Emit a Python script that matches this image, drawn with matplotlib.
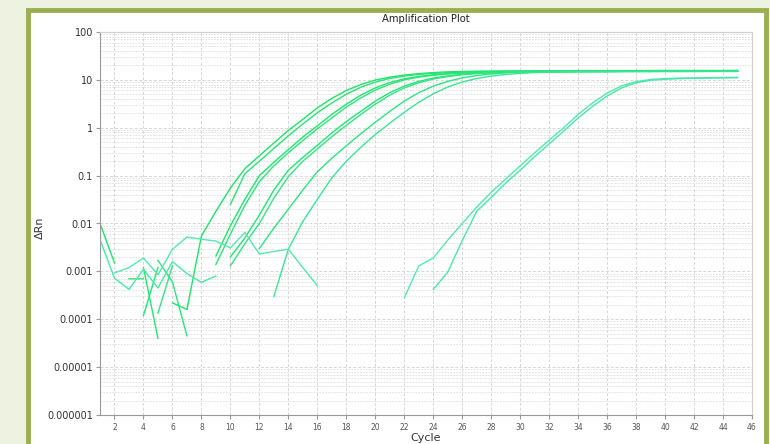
import numpy as np
import matplotlib
matplotlib.use("Agg")
import matplotlib.pyplot as plt
from matplotlib.patches import Rectangle
from matplotlib.ticker import LogLocator, NullFormatter

n = np.nan

# cycle numbers 1..45
cycles = list(range(1, 46))

# delta Rn per well (nan = negative value, not drawn on log axis)
well_a1 = [n, n, n, n, n, 0.00022, 0.00016, 0.0055, 0.018, 0.055,
           0.14, 0.26, 0.48, 0.88, 1.5, 2.6, 4.1, 6.0, 8.0, 9.9,
           11.4, 12.6, 13.5, 14.2, 14.7, 15.0, 15.2, 15.3, 15.4, 15.4,
           15.5, 15.5, 15.5, 15.6, 15.6, 15.6, 15.6, 15.6, 15.7, 15.7,
           15.7, 15.7, 15.7, 15.7, 15.8]
well_a2 = [n, n, n, 0.0012, 0.00004, n, n, n, n, 0.025,
           0.11, 0.2, 0.37, 0.68, 1.2, 2.05, 3.3, 5.0, 7.0, 9.0,
           10.7, 12.0, 13.0, 13.7, 14.2, 14.5, 14.7, 14.8, 14.9, 15.0,
           15.0, 15.1, 15.1, 15.1, 15.2, 15.2, 15.2, 15.2, 15.2, 15.3,
           15.3, 15.3, 15.3, 15.3, 15.3]
well_b1 = [0.010, 0.0015, n, n, n, n, n, n, 0.0021, 0.009,
           0.032, 0.1, 0.19, 0.35, 0.64, 1.1, 1.9, 3.1, 4.8, 6.8,
           8.8, 10.5, 11.8, 12.8, 13.5, 14.0, 14.3, 14.5, 14.6, 14.7,
           14.8, 14.8, 14.9, 14.9, 14.9, 15.0, 15.0, 15.0, 15.0, 15.1,
           15.1, 15.1, 15.1, 15.1, 15.1]
well_b2 = [n, n, 0.0007, 0.0007, n, n, n, n, 0.0014, 0.006,
           0.024, 0.075, 0.16, 0.3, 0.54, 0.95, 1.6, 2.7, 4.2, 6.1,
           8.1, 10.0, 11.4, 12.5, 13.3, 13.9, 14.2, 14.5, 14.6, 14.7,
           14.8, 14.8, 14.8, 14.9, 14.9, 14.9, 14.9, 15.0, 15.0, 15.0,
           15.0, 15.0, 15.0, 15.0, 15.0]
well_c1 = [n, n, n, 0.00012, 0.0012, n, n, n, n, 0.002,
           0.005, 0.015, 0.05, 0.13, 0.24, 0.43, 0.78, 1.35, 2.2, 3.6,
           5.4, 7.4, 9.3, 10.9, 12.1, 13.1, 13.8, 14.2, 14.5, 14.7,
           14.8, 14.9, 14.9, 15.0, 15.0, 15.0, 15.1, 15.1, 15.1, 15.1,
           15.1, 15.2, 15.2, 15.2, 15.2]
well_c2 = [n, n, n, n, 0.000135, 0.0013, n, n, n, 0.0013,
           0.0038, 0.01, 0.034, 0.095, 0.2, 0.36, 0.65, 1.12, 1.9, 3.1,
           4.8, 6.8, 8.7, 10.4, 11.7, 12.8, 13.5, 14.0, 14.4, 14.6,
           14.7, 14.8, 14.8, 14.9, 14.9, 14.9, 15.0, 15.0, 15.0, 15.0,
           15.0, 15.0, 15.1, 15.1, 15.1]
well_d = [n, n, n, n, 0.0017, 0.0006, 0.000045, n, n, n,
          n, 0.003, 0.008, 0.02, 0.05, 0.12, 0.23, 0.42, 0.75, 1.3,
          2.2, 3.6, 5.4, 7.4, 9.3, 11.0, 12.3, 13.3, 14.0, 14.5,
          14.8, 15.0, 15.1, 15.2, 15.2, 15.3, 15.3, 15.3, 15.4, 15.4,
          15.4, 15.4, 15.4, 15.4, 15.4]
well_e = [n, n, n, n, n, n, n, n, n, n,
          n, n, 0.0003, 0.0029, 0.011, 0.032, 0.09, 0.2, 0.39, 0.72,
          1.25, 2.1, 3.4, 5.1, 7.1, 9.0, 10.7, 12.0, 13.0, 13.7,
          14.2, 14.5, 14.8, 14.9, 15.0, 15.0, 15.1, 15.1, 15.1, 15.2,
          15.2, 15.2, 15.2, 15.2, 15.2]
well_l1 = [n, 0.00093, 0.0012, 0.0019, 0.00085, 0.0029, 0.0052, 0.0047, 0.0043, 0.0031,
           0.0065, 0.0023, 0.0026, 0.0029, 0.0012, 0.0005, n, n, n, n,
           n, 0.00028, 0.0013, 0.0019, 0.0045, 0.010, 0.022, 0.045, 0.085, 0.16,
           0.30, 0.55, 1.0, 1.9, 3.3, 5.3, 7.5, 9.2, 10.2, 10.6,
           10.9, 11.0, 11.1, 11.2, 11.3]
well_l2 = [0.0046, 0.00072, 0.00042, 0.0011, 0.00045, 0.0016, 0.0009, 0.00059, 0.0008, n,
           n, n, n, n, n, n, n, n, n, n,
           n, n, n, 0.00042, 0.00096, 0.0044, 0.018, 0.035, 0.07, 0.13,
           0.25, 0.46, 0.85, 1.6, 2.8, 4.6, 6.8, 8.7, 9.8, 10.3,
           10.6, 10.8, 10.9, 11.0, 11.1]

wells = [well_a1, well_a2, well_b1, well_b2, well_c1, well_c2, well_d, well_e, well_l1, well_l2]
colors = ["#1ee36a", "#28e472", "#1be86c", "#2ee47a", "#20e674", "#33e584",
          "#2ae580", "#3ae694", "#55e8b0", "#4ae7a8"]

yticks = [1e-6, 1e-5, 1e-4, 1e-3, 1e-2, 1e-1, 1, 10, 100]
ylabels = ["0.000001", "0.00001", "0.0001", "0.001", "0.01", "0.1", "1", "10", "100"]
xticks = list(range(2, 47, 2))

fig = plt.figure(figsize=(7.7, 4.44), dpi=100)
fig.patch.set_facecolor("#eef2e1")

# background axes holding the white panel with the olive frame
bg = fig.add_axes([0, 0, 1, 1], zorder=-1)
bg.set_xlim(0, 770)
bg.set_ylim(444, 0)
bg.axis("off")
bg.add_patch(Rectangle((28, 10), 766 - 28, 460, facecolor="white",
                       edgecolor="#9aae52", linewidth=3.5))

ax = fig.add_axes([100 / 770, 1 - 415 / 444, (752 - 100) / 770, (415 - 32) / 444], zorder=1)
ax.set_facecolor("white")

for w, c in zip(wells, colors):
    ax.plot(cycles, w, color=c, lw=1.0)

ax.set_yscale("log")
ax.set_ylim(1e-6, 100)
ax.set_xlim(1, 46)
ax.set_yticks(yticks)
ax.set_yticklabels(ylabels)
ax.yaxis.set_minor_locator(LogLocator(base=10, subs=np.arange(2, 10)))
ax.yaxis.set_minor_formatter(NullFormatter())
ax.set_xticks(xticks)

ax.grid(True, which="major", color="#d6d6d6", linestyle=(0, (3, 2)), lw=0.7)
ax.grid(True, which="minor", axis="y", color="#dddddd", linestyle=(0, (2, 1.5)), lw=0.6)
ax.set_axisbelow(True)

for s in ["left", "bottom"]:
    ax.spines[s].set_color("#999999")
for s in ["top", "right"]:
    ax.spines[s].set_color("#d0d0d0")

ax.tick_params(axis="y", which="major", labelsize=7, labelcolor="#333333",
               length=3, color="#999999", pad=2)
ax.tick_params(axis="y", which="minor", length=0)
ax.tick_params(axis="x", labelsize=5.5, labelcolor="#555555",
               length=3, color="#999999", pad=3)

fig.text(426 / 770, 1 - 19 / 444, "Amplification Plot", fontsize=7.2,
         color="#222222", ha="center", va="center")
fig.text(426 / 770, 1 - 438 / 444, "Cycle", fontsize=8, color="#333333",
         ha="center", va="center")
fig.text(40 / 770, 1 - 228 / 444, "ΔRn", fontsize=8, color="#333333",
         ha="center", va="center", rotation=90)

fig.savefig("out.png", dpi=100, facecolor=fig.get_facecolor())
